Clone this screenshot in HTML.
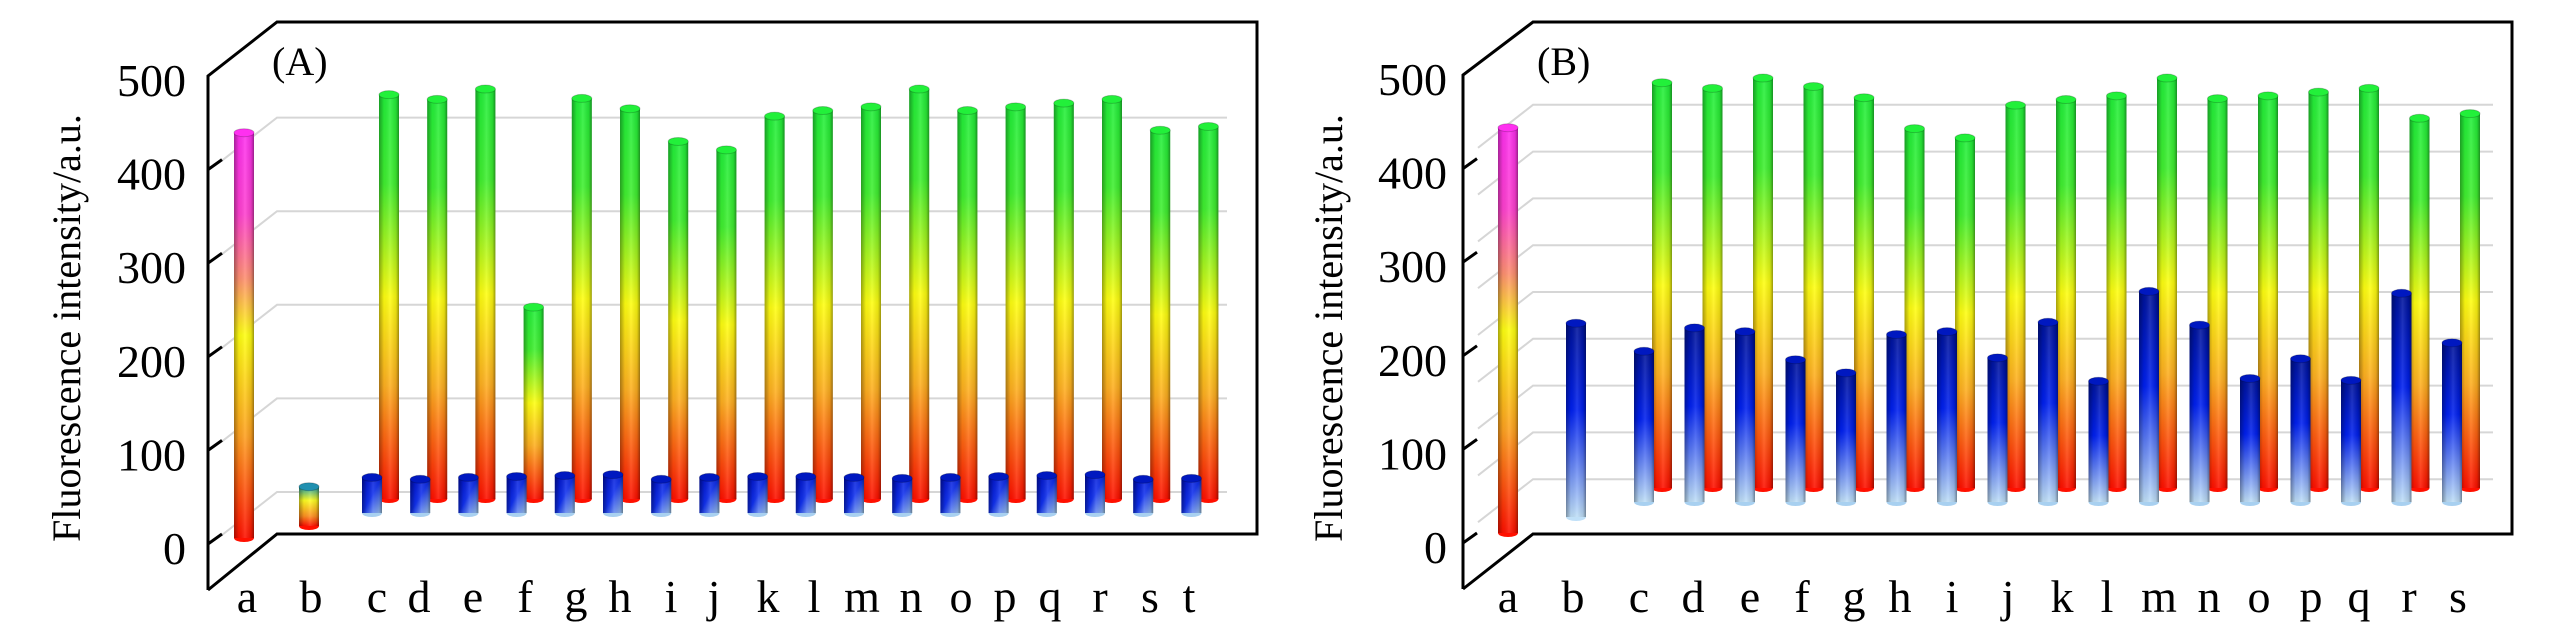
<!DOCTYPE html>
<html><head><meta charset="utf-8"><style>
html,body{margin:0;padding:0;background:#fff;}
svg{display:block;font-family:"Liberation Serif","Times New Roman",serif;}
</style></head><body>
<svg id="chart" width="2567" height="630" viewBox="0 0 2567 630" xmlns="http://www.w3.org/2000/svg">
<defs>
<linearGradient id="gGreen" x1="0" y1="0" x2="0" y2="1">
<stop offset="0" stop-color="#22f03a"/><stop offset="0.22" stop-color="#40f030"/><stop offset="0.5" stop-color="#ffff10"/><stop offset="0.72" stop-color="#ffb020"/><stop offset="1" stop-color="#ff1000"/></linearGradient>
<linearGradient id="gPink" x1="0" y1="0" x2="0" y2="1">
<stop offset="0" stop-color="#ff30f0"/><stop offset="0.2" stop-color="#ff40d0"/><stop offset="0.36" stop-color="#ff9070"/><stop offset="0.5" stop-color="#ffff10"/><stop offset="0.75" stop-color="#ffa020"/><stop offset="1" stop-color="#ff1000"/></linearGradient>
<linearGradient id="gBlue" x1="0" y1="0" x2="0" y2="1">
<stop offset="0" stop-color="#00139a"/><stop offset="0.45" stop-color="#0020f0"/><stop offset="1" stop-color="#c0e0f8"/></linearGradient>
<linearGradient id="gBlueShort" x1="0" y1="0" x2="1" y2="1">
<stop offset="0" stop-color="#0010c0"/><stop offset="0.5" stop-color="#1030ee"/><stop offset="1" stop-color="#a8d0f0"/></linearGradient>
<linearGradient id="gSmall" x1="0" y1="0" x2="0" y2="1">
<stop offset="0" stop-color="#20a0b0"/><stop offset="0.35" stop-color="#ffff20"/><stop offset="0.75" stop-color="#ff9020"/><stop offset="1" stop-color="#ff1000"/></linearGradient>
<linearGradient id="gShade" x1="0" y1="0" x2="1" y2="0">
<stop offset="0" stop-color="#000" stop-opacity="0.35"/><stop offset="0.25" stop-color="#000" stop-opacity="0.05"/><stop offset="0.55" stop-color="#fff" stop-opacity="0.12"/><stop offset="0.85" stop-color="#000" stop-opacity="0.1"/><stop offset="1" stop-color="#000" stop-opacity="0.4"/></linearGradient>
</defs>
<g id="layer"></g>
</svg>
<script>
const catsA = ["a","b","c","d","e","f","g","h","i","j","k","l","m","n","o","p","q","r","s","t"];
const refA = 433;
const blankA = 42;
const greenA = [432,427,438,205,428,417,382,373,409,415,419,438,415,419,423,427,394,398];
const blueA = [38,36,38,39,40,41,36,38,39,39,38,37,38,39,40,41,36,37];
const catsB = ["a","b","c","d","e","f","g","h","i","j","k","l","m","n","o","p","q","r","s"];
const refB = 433;
const blankB = 207;
const greenB = [433,427,438,429,417,384,374,409,415,419,438,416,419,423,427,395,400];
const blueB = [161,186,182,152,138,179,182,154,192,129,225,189,132,153,130,223,170];
const yTicks = [0,100,200,300,400,500];
const gridA = [0,100,200,300,400];
const gridB = [50,100,150,200,250,300,350,400,450];

const NS = "http://www.w3.org/2000/svg";
const layer = document.getElementById("layer");
const K = 0.936;

function mk(tag, attrs, parent){
  const e = document.createElementNS(NS, tag);
  for (const k in attrs) e.setAttribute(k, attrs[k]);
  (parent||layer).appendChild(e);
  return e;
}

function cyl(g, cx, base, val, fill, topCol, botCol, name){
  const w = 20, ry = 4;
  const top = base - val*K;
  const grp = mk("g", {}, g);
  
  
  mk("ellipse", {cx:cx, cy:base, rx:w/2, ry:ry, fill:botCol}, grp);
  mk("rect", {x:cx-w/2, y:top, width:w, height:base-top, fill:fill}, grp);
  mk("rect", {x:cx-w/2, y:top, width:w, height:base-top, fill:"url(#gShade)"}, grp);
  mk("ellipse", {cx:cx, cy:top, rx:w/2, ry:ry, fill:topCol, stroke:"rgba(0,0,0,0.2)", "stroke-width":1}, grp);
}

function chart(cfg){
  const g = mk("g", {});
  
  
  const fx = cfg.fx, bx = cfg.bx, rx = cfg.rx;
  cfg.grid.forEach(v => {
    const y = cfg.backZero - v*K;
    const l = mk("polyline", {points:`${bx-55},${y+43} ${bx},${y} ${cfg.gridEnd},${y}`, fill:"none", stroke:"#d6d6d6", "stroke-width":2}, g);
    
    
  });
  const fr = mk("path", {d:`M${fx},${cfg.frontZero+46} L${fx},${cfg.frontZero-500*K} L${bx},22 L${rx},22 L${rx},534 L${bx},534 L${fx},${cfg.frontZero+46}`, fill:"none", stroke:"#000", "stroke-width":3}, g);
  
  
  yTicks.forEach(v => {
    const y = cfg.frontZero - v*K;
    if (v < 500) {
      const t = mk("line", {x1:fx, y1:y, x2:fx+14, y2:y-10, stroke:"#000", "stroke-width":3}, g);
      
      
    }
    const tx = mk("text", {x:cfg.labelRight, y:y+20, "text-anchor":"end", "font-size":46}, g);
    tx.textContent = v;
    
    
  });
  const yt = mk("text", {x:0, y:0, "text-anchor":"middle", "font-size":40, transform:`translate(${cfg.titleX},328) rotate(-90)`}, g);
  yt.textContent = "Fluorescence intensity/a.u.";
  
  
  const pl = mk("text", {x:cfg.panelX, y:75, "font-size":40}, g);
  pl.textContent = cfg.panel;
  
  
  cyl(g, cfg.aX, cfg.aBase, cfg.refVal, "url(#gPink)", "#ff30f0", "#ff1000", "bar-a");
  cyl(g, cfg.bX, cfg.bBase, cfg.blankVal, cfg.bFill, cfg.bTop, cfg.bBot, "bar-b");
  cfg.green.forEach((v,i) => {
    const cx = cfg.g0 + i*cfg.step;
    cyl(g, cx, cfg.gBase, v, "url(#gGreen)", "#22f03a", "#ff1000", "bar-green-" + cfg.cats[i+2]);
  });
  cfg.blue.forEach((v,i) => {
    const cx = cfg.g0 + i*cfg.step + cfg.blueOff;
    cyl(g, cx, cfg.blBase, v, cfg.blueFill, "#0018c0", "#a8d0f0", "bar-blue-" + cfg.cats[i+2]);
  });
  cfg.cats.forEach((c,i) => {
    const t = mk("text", {x:cfg.lx[i], y:612, "text-anchor":"middle", "font-size":46}, g);
    t.textContent = c;
    
    
  });
}

chart({name:"chart-a", cats:catsA, panel:"(A)", fx:208, bx:277, rx:1257, gridEnd:1227,
  frontZero:544, backZero:492, grid:gridA, labelRight:186, titleX:80, panelX:272,
  aX:244, aBase:538, refVal:refA, bX:309, bBase:526, blankVal:blankA, bFill:"url(#gSmall)", bTop:"#2090b0", bBot:"#ff1000",
  g0:389, step:48.2, gBase:499, green:greenA, blueOff:-17, blBase:513, blue:blueA, blueFill:"url(#gBlueShort)",
  lx:[247,311,377,419,473,525,576,620,671,714,768,814,862,911,961,1005,1050,1100,1150,1189]});
chart({name:"chart-b", cats:catsB, panel:"(B)", fx:1463, bx:1533, rx:2512, gridEnd:2493,
  frontZero:543, backZero:526, grid:gridB, labelRight:1447, titleX:1342, panelX:1537,
  aX:1508, aBase:533, refVal:refB, bX:1576, bBase:517, blankVal:blankB, bFill:"url(#gBlue)", bTop:"#0018c0", bBot:"#c0e0f8",
  g0:1662, step:50.5, gBase:488, green:greenB, blueOff:-18, blBase:502, blue:blueB, blueFill:"url(#gBlue)",
  lx:[1508,1573,1639,1693,1750,1802,1854,1900,1952,2008,2062,2107,2159,2209,2259,2311,2359,2409,2458]});
</script>
</body></html>
